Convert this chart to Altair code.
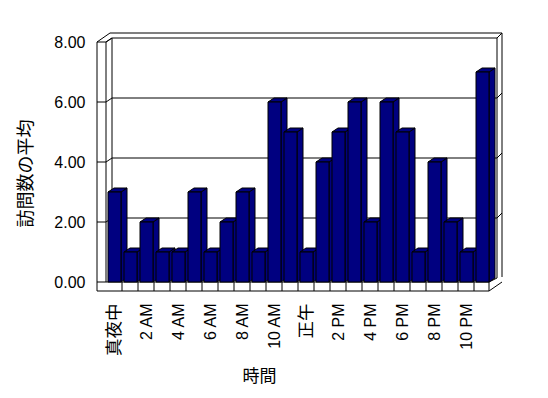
import altair as alt
import pandas as pd

# ---- data ----
tick_labels = ["真夜中", "2 AM", "4 AM", "6 AM", "8 AM", "10 AM",
               "正午", "2 PM", "4 PM", "6 PM", "8 PM", "10 PM"]
visits = [3, 1, 2, 1, 1, 3, 1, 2, 3, 1, 6, 5, 1, 4, 5, 6, 2, 6, 5, 1, 4, 2, 1, 7]
y_ticks = [0, 2, 4, 6, 8]
x_title = "時間"
y_title = "訪問数の平均"

# ---- style / geometry constants (data units) ----
N = len(visits)
BAR_W = 0.8125          # front face width of a bar
DX = 0.375              # bar depth (x)
DY = 4 / 30             # bar depth (y)
X_MIN, X_MAX = -0.6875, 24.625
Y_MIN, Y_MAX = -1 / 3, 8.3
XL_OUT, XL_IN = -0.6875, -0.125        # left wall front face
XB_L_OUT, XB_L = 0.125, 0.25           # back wall left edges
XB_R, XB_R_OUT = 24.3125, 24.625       # back wall right edges
XF_R = 23.8125                         # floor front right
Y_FF = -0.3                            # floor front bottom
WALL_DY = 4 / 30
Y_TOP_IN, Y_TOP_OUT = 8 + WALL_DY, 8.3
RDY = 5 / 30

NAVY = "#000080"
FONT = "Liberation Sans, Noto Sans CJK JP"

xs = alt.Scale(domain=[X_MIN, X_MAX], nice=False, zero=False)
ys = alt.Scale(domain=[Y_MIN, Y_MAX], nice=False, zero=False)

# ---- bar tables ----
front = pd.DataFrame({"bar": list(range(N)), "value": visits})
front["x0"] = front["bar"]
front["x1"] = front["bar"] + BAR_W
front["y0"] = 0.0

side_rows, top_rows = [], []
for i, v in enumerate(visits):
    side_rows.append({"bar": i, "x": i + BAR_W, "lo": 0.0, "hi": v})
    side_rows.append({"bar": i, "x": i + BAR_W + DX, "lo": DY, "hi": v + DY})
    top_rows.append({"bar": i, "y": v, "lo": i, "hi": i + BAR_W})
    top_rows.append({"bar": i, "y": v + DY, "lo": i + DX, "hi": i + BAR_W + DX})
side = pd.DataFrame(side_rows)
top = pd.DataFrame(top_rows)

# ---- frame segments ----
seg = []
def s(a, b, c, d):
    seg.append({"x": a, "y": b, "x2": c, "y2": d})

s(XL_OUT, Y_FF, XL_OUT, 8)
s(XL_IN, 0, XL_IN, 8)
s(XL_OUT, 8, XB_L_OUT, Y_TOP_OUT)
s(XL_IN, 8, XB_L, Y_TOP_IN)
s(XB_L_OUT, Y_TOP_OUT, XB_R_OUT, Y_TOP_OUT)
s(XB_R_OUT, Y_TOP_OUT, XB_R_OUT, RDY)
s(XB_L, Y_TOP_IN, XB_L, 0)
s(XB_R, Y_TOP_IN, XB_R, WALL_DY)
for v in y_ticks:
    s(XL_OUT, v, XL_IN, v)
    if v > 0:
        s(XL_IN, v, XB_L, v + WALL_DY)
        s(XB_L, v + WALL_DY, XB_R, v + WALL_DY)
        s(XB_R, v + WALL_DY, XB_R_OUT, v + WALL_DY + RDY)
# floor
s(XL_OUT, Y_FF, XF_R, Y_FF)
s(XL_IN, 0, XF_R, 0)
s(XF_R, Y_FF, XF_R, 0)
s(XF_R, Y_FF, XB_R_OUT, Y_FF + RDY * 1.8)
s(XF_R, 0, XB_R, WALL_DY)
for k in range(1, N):
    s(k - 0.125, Y_FF, k - 0.125, 0)
segs = pd.DataFrame(seg)

# ---- axes ----
tick_pos = [2 * k + BAR_W / 2 for k in range(len(tick_labels))]
lab_arr = "[" + ",".join("'" + t + "'" for t in tick_labels) + "]"
label_expr = f"{lab_arr}[round((datum.value - {BAR_W / 2}) / 2)]"
cjk_test = f"datum.value < 1 || abs(datum.value - {tick_pos[6]}) < 0.5"

x_axis = alt.Axis(
    title=x_title, values=tick_pos, labelExpr=label_expr, labelAngle=270,
    labelPadding=11, ticks=False, tickSize=0, domain=False, grid=False,
    labelFontSize={"condition": {"test": cjk_test, "value": 17.5}, "value": 16},
    labelFont=FONT, labelColor="black", labelFlush=False,
    labelOverlap=False, titleFontSize=17, titleFont=FONT, titleFontWeight="normal",
    titleColor="black", titleX=162, titleY=84, titleBaseline="middle",
)
y_axis = alt.Axis(
    title=y_title, values=y_ticks, format=".2f", labelPadding=12, ticks=False,
    tickSize=0, domain=False, grid=False, labelFontSize=16, labelFont=FONT,
    labelColor="black", titleFontSize=18, titleFont=FONT, titleFontWeight="normal",
    titleColor="black", titleX=-71, titleY=140, titleBaseline="middle", titleAngle=270,
)

frame = alt.Chart(segs).mark_rule(color="black", strokeWidth=1).encode(
    x=alt.X("x:Q", scale=xs, axis=x_axis),
    y=alt.Y("y:Q", scale=ys, axis=y_axis),
    x2="x2:Q", y2="y2:Q",
)

side_layer = alt.Chart(side).mark_area(
    color=NAVY, stroke="black", strokeWidth=1, interpolate="linear"
).encode(
    x=alt.X("x:Q", scale=xs, axis=x_axis),
    y=alt.Y("lo:Q", scale=ys, axis=y_axis, stack=None),
    y2="hi:Q",
    detail="bar:N",
)

top_layer = alt.Chart(top).mark_area(
    color=NAVY, stroke="black", strokeWidth=1, orient="horizontal", interpolate="linear"
).encode(
    y=alt.Y("y:Q", scale=ys, axis=y_axis),
    x=alt.X("lo:Q", scale=xs, axis=x_axis, stack=None),
    x2="hi:Q",
    detail="bar:N",
)

front_layer = alt.Chart(front).mark_rect(
    color=NAVY, stroke="black", strokeWidth=1
).encode(
    x=alt.X("x0:Q", scale=xs, axis=x_axis),
    x2="x1:Q",
    y=alt.Y("y0:Q", scale=ys, axis=y_axis),
    y2="value:Q",
)

chart = alt.layer(frame, side_layer, top_layer, front_layer).properties(
    width=405, height=259,
    padding={"left": 97, "top": 33, "right": 46, "bottom": 106},
    autosize=alt.AutoSizeParams(type="none"),
    background="white",
).configure_view(strokeWidth=0)

chart.save("out.html", embed_options={"renderer": "svg", "actions": False})
